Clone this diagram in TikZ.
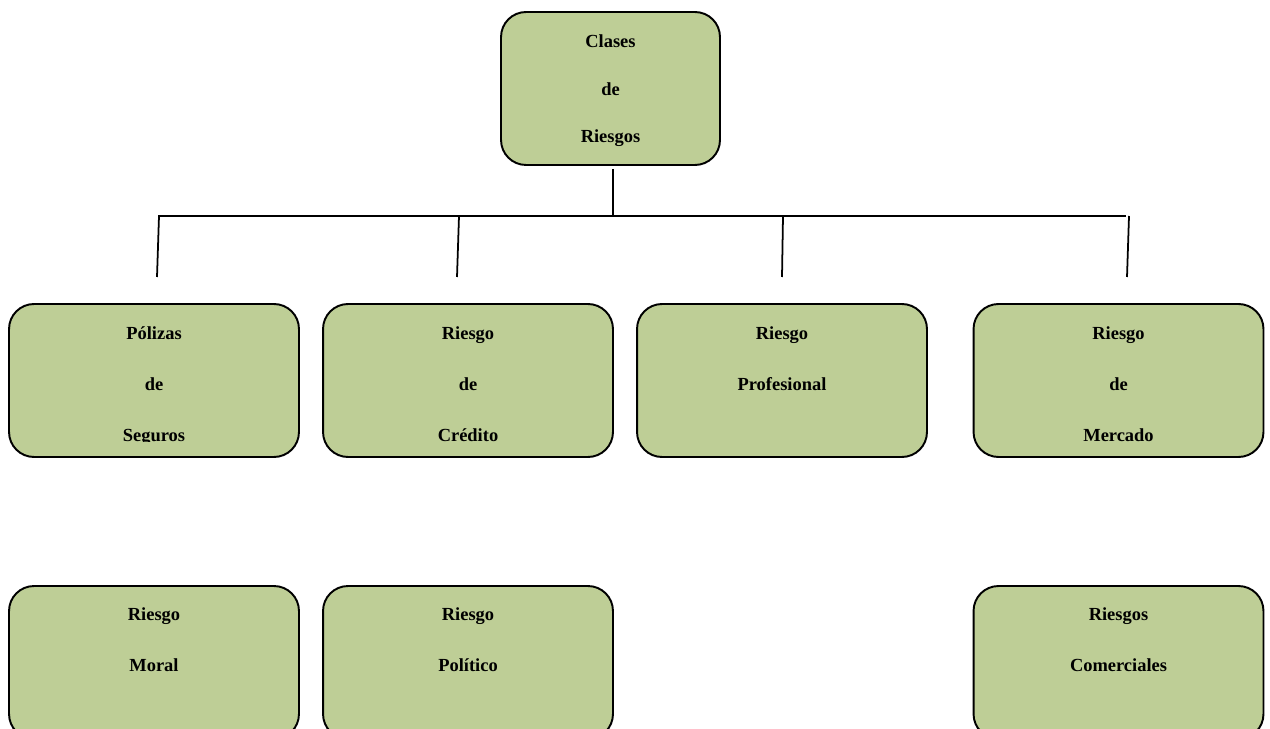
\documentclass[tikz,border=0pt]{standalone}
\usepackage{fontspec}
\setmainfont{Liberation Serif}
\usepackage{tikz}

\definecolor{riskgreen}{RGB}{190,206,150}

\tikzset{
    riskbox/.style={draw, line width=1.1pt, rounded corners=0.5cm, fill=riskgreen,
        minimum width=5.8cm, minimum height=3.06cm, inner sep=0pt},
    risktext/.style={anchor=base, align=center, inner sep=0pt,
        font=\fontsize{10.5}{28.9}\selectfont\bfseries},
    toptext/.style={risktext, font=\fontsize{10.5}{27.2}\selectfont\bfseries},
    link/.style={line width=1pt}
}

\begin{document}
\begin{tikzpicture}[x=0.02cm, y=-0.02cm]
    \useasboundingbox (0,0) rectangle (1270,729);
    \clip (0,0) rectangle (1270,729);

        % boxes
        \node[riskbox, minimum width=4.38cm] (clases) at (610.5,88.5) {};

        \node[riskbox] (polizas) at (154,380.5) {};
        \node[riskbox] (credito) at (468,380.5) {};
        \node[riskbox] (profesional) at (782,380.5) {};
        \node[riskbox] (mercado) at (1118.5,380.5) {};

        \node[riskbox] (moral) at (154,662.5) {};
        \node[riskbox] (politico) at (468,662.5) {};
        \node[riskbox] (comerciales) at (1118.5,662.5) {};

        % texts (base = last line)
        \node[toptext] (clases text) at (610.5,143) {Clases\\de\\Riesgos};

        \begin{scope}
            \clip (0,304) rectangle (1270,441);
            \node[risktext] (polizas text) at (154,441) {Pólizas\\de\\Seguros};
            \node[risktext] (credito text) at (468,441) {Riesgo\\de\\Crédito};
            \node[risktext] (profesional text) at (782,390) {Riesgo\\Profesional};
            \node[risktext] (mercado text) at (1118.5,441) {Riesgo\\de\\Mercado};
        \end{scope}

        \node[risktext] (moral text) at (154,671) {Riesgo\\Moral};
        \node[risktext] (politico text) at (468,671) {Riesgo\\Político};
        \node[risktext] (comerciales text) at (1118.5,671) {Riesgos\\Comerciales};

        % connectors
        \coordinate (stem) at (613,169);
        \coordinate (stem end) at (613,216);
        \coordinate (bus west) at (158,216);
        \coordinate (bus east) at (1126,216);

        \coordinate (drop a top) at (159,216);
        \coordinate (drop a end) at (157,277);
        \coordinate (drop b top) at (459,216);
        \coordinate (drop b end) at (457,277);
        \coordinate (drop c top) at (783,216);
        \coordinate (drop c end) at (782,277);
        \coordinate (drop d top) at (1129,216);
        \coordinate (drop d end) at (1127,277);

        \draw[link] (stem) -- (stem end);
        \draw[link] (bus west) -- (bus east);

        \foreach \d in {a,b,c,d}
            \draw[link] (drop \d\space top) -- (drop \d\space end);

    \end{tikzpicture}
\end{document}
